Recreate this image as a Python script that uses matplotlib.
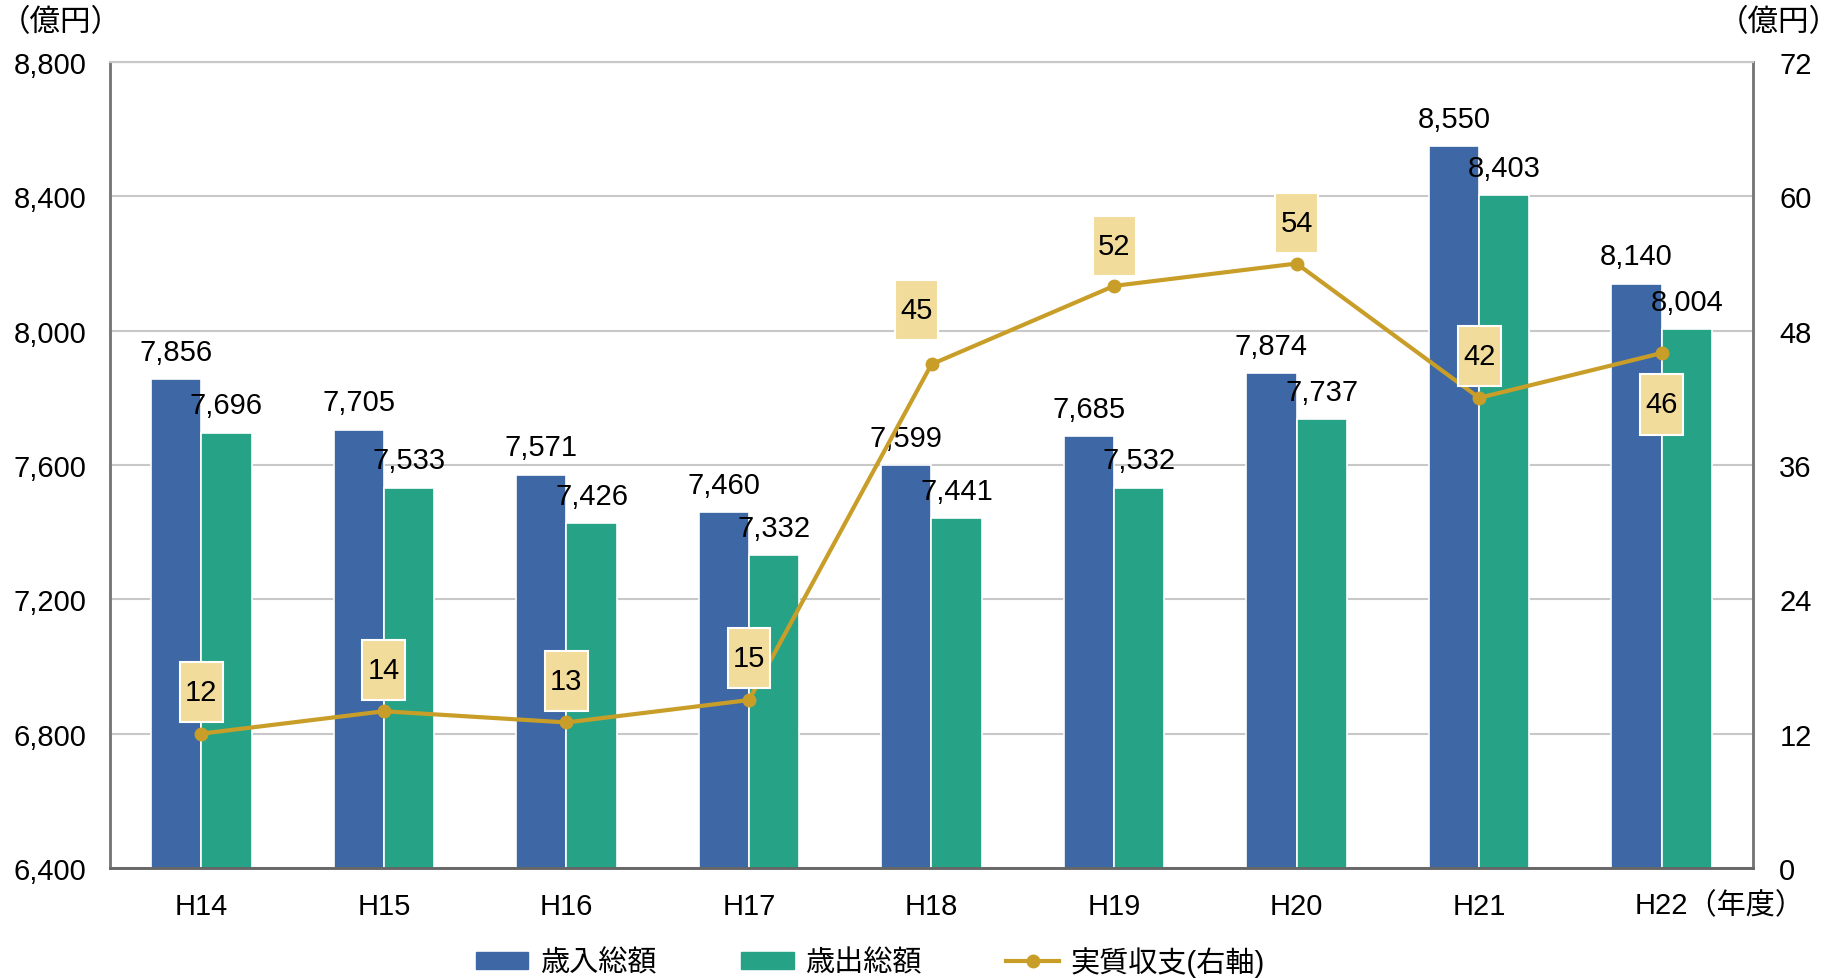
import matplotlib
matplotlib.use('Agg')
import matplotlib.pyplot as plt
from matplotlib.patches import Patch
from matplotlib.lines import Line2D
from matplotlib.path import Path
import numpy as np

plt.rcParams['font.family'] = ['Liberation Sans', 'Noto Sans CJK JP']

years = ['H14', 'H15', 'H16', 'H17', 'H18', 'H19', 'H20', 'H21', 'H22']
revenue = [7856, 7705, 7571, 7460, 7599, 7685, 7874, 8550, 8140]
expenditure = [7696, 7533, 7426, 7332, 7441, 7532, 7737, 8403, 8004]
balance = [12, 14, 13, 15, 45, 52, 54, 42, 46]

blue = '#3D68A5'
green = '#26A387'
gold = '#C99E28'
box = '#F2DC9B'


def tall_box(x0, y0, width, height, mutation_size):
    # box taller than wide, like the reference labels
    px = 0.18 * mutation_size
    py = 0.55 * mutation_size
    x0, y0 = x0 - px, y0 - py
    x1, y1 = x0 + width + 2 * px, y0 + height + 2 * py
    return Path([(x0, y0), (x1, y0), (x1, y1), (x0, y1), (x0, y0)], closed=True)


fig = plt.figure(figsize=(18.4, 9.79), dpi=100)
ax = fig.add_axes([0.0598, 0.1124, 0.8929, 0.8232])
ax2 = ax.twinx()

x = np.arange(len(years))
w = 0.275
ax.bar(x - w / 2, revenue, w, color=blue, edgecolor='white', linewidth=1.2, zorder=2)
ax.bar(x + w / 2, expenditure, w, color=green, edgecolor='white', linewidth=1.2, zorder=2)

for i in range(len(years)):
    ax.annotate(f'{revenue[i]:,}', (x[i] - w / 2, revenue[i]), xytext=(0, 14),
                textcoords='offset points', ha='center', va='baseline', fontsize=21, zorder=3)
    ax.annotate(f'{expenditure[i]:,}', (x[i] + w / 2, expenditure[i]), xytext=(0, 14),
                textcoords='offset points', ha='center', va='baseline', fontsize=21, zorder=3)

ax.set_xlim(-0.5, len(years) - 0.5)
ax.set_ylim(6400, 8800)
ax.set_yticks(np.arange(6400, 8801, 400))
ax.set_yticklabels([f'{v:,}' for v in range(6400, 8801, 400)])
ax.set_xticks(x)
# last label is drawn below together with the unit
ax.set_xticklabels(years[:-1] + [''])
ax.yaxis.grid(True, color='#C8C8C8', linewidth=1.5, zorder=0)
ax.set_axisbelow(True)
ax.tick_params(axis='both', length=0, labelsize=21)
ax.tick_params(axis='x', pad=17)
ax.tick_params(axis='y', pad=17)

ax2.plot(x, balance, color=gold, linewidth=3, marker='o', markersize=9, zorder=4)
ax2.set_ylim(0, 72)
ax2.set_yticks(np.arange(0, 73, 12))
ax2.tick_params(axis='y', length=0, labelsize=21, pad=19)

# label box offsets (points) relative to each marker
box_dx = [0, 0, 0, 0, -11, 0, 0, 0, 0]
box_dy = [30, 30, 30, 30, 39, 29, 29, 30, -37]
for i, v in enumerate(balance):
    ax2.annotate(str(v), (x[i], v), xytext=(box_dx[i], box_dy[i]), textcoords='offset points',
                 ha='center', va='center', fontsize=21, zorder=5,
                 bbox=dict(boxstyle=tall_box, fc=box, ec='white', lw=1.5))

for a in (ax, ax2):
    a.spines['top'].set_color('#C8C8C8')
    a.spines['top'].set_linewidth(1.5)
    a.spines['left'].set_color('#777777')
    a.spines['right'].set_color('#777777')
    a.spines['bottom'].set_color('#666666')
    for s in ('left', 'right', 'bottom'):
        a.spines[s].set_linewidth(1.8)

fig.text(0.0, 0.977, '（億円）', fontsize=22, ha='left', va='center',
         family=['Noto Sans CJK JP'])
fig.text(1.0, 0.977, '（億円）', fontsize=22, ha='right', va='center',
         family=['Noto Sans CJK JP'])
ax.annotate(years[-1] + '（年度）', (x[-1], 0), xycoords=('data', 'axes fraction'),
            xytext=(-19.3, -17), textcoords='offset points', ha='left', va='top',
            fontsize=21)

handles = [Patch(color=blue), Patch(color=green),
           Line2D([], [], color=gold, linewidth=3, marker='o', markersize=9)]
fig.legend(handles, ['歳入総額', '歳出総額', '実質収支(右軸)'], loc='center',
           bbox_to_anchor=(0.473, 0.017), ncol=3, frameon=False, fontsize=21,
           handlelength=1.8, handleheight=0.5, handletextpad=0.4, columnspacing=2.9)

fig.savefig('out.png', dpi=100)
